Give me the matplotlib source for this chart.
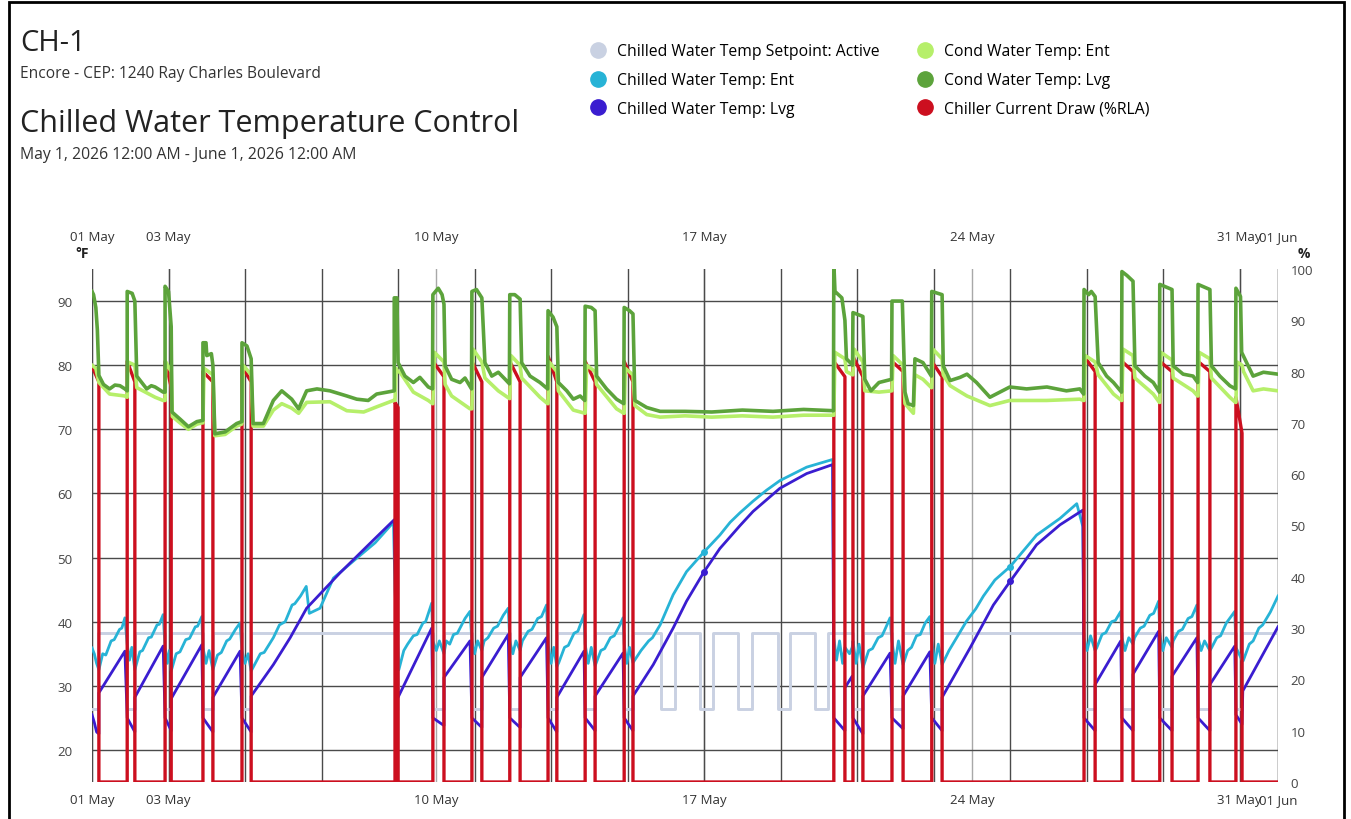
import numpy as np
import pandas as pd
import matplotlib
matplotlib.use("Agg")
import matplotlib.pyplot as plt
import matplotlib.dates as mdates
from matplotlib.lines import Line2D
from matplotlib.patches import Rectangle

plt.rcParams["font.family"] = ["Open Sans", "DejaVu Sans"]

START = pd.Timestamp("2026-05-01")
END = pd.Timestamp("2026-06-01")

# times are in days after May 1, 00:00
# chiller runs (current draw, % RLA)
pulse_on = [0.00, 0.92, 1.91, 2.90, 3.92, 7.92, 8.91, 9.93, 10.92, 11.92, 12.89,
            13.91, 19.39, 19.89, 20.91, 21.95, 25.93, 26.92, 27.91, 28.91, 29.90]
pulse_off = [0.18, 1.12, 2.07, 3.16, 4.16, 8.00, 9.20, 10.19, 11.19, 12.15, 13.15,
             14.14, 19.68, 20.15, 21.20, 22.22, 26.22, 27.21, 28.23, 29.22, 30.06]
pulse_peak = [81, 82, 82, 80, 81, 74, 82, 82, 82, 83, 82,
              82, 82, 83, 82, 82, 83, 82, 82, 82, 75]
pulse_tail = [78, 78, 77, 78, 78, 73, 79, 78, 78, 78, 78,
              78, 79, 79, 80, 79, 80, 80, 80, 80, 68]

# setpoint: low periods
sp_high, sp_low = 38.3, 26.4
sp_low_on = [0.00, 0.92, 1.91, 2.90, 3.92, 7.92, 8.91, 9.93, 10.92, 11.92, 12.89, 13.91,
             14.88, 15.90, 16.89, 17.94, 18.90, 19.89, 20.91, 21.95, 25.93, 26.92,
             27.91, 28.91, 29.90]
sp_low_off = [0.15, 1.12, 2.07, 3.16, 4.16, 8.00, 9.20, 10.19, 11.19, 12.15, 13.15, 14.14,
              15.24, 16.24, 17.24, 18.24, 19.24, 20.15, 21.20, 22.22, 26.22, 27.21,
              28.23, 29.22, 30.06]

chw_lvg = [
    (0.00, 25.5), (0.06, 24.3), (0.12, 22.8), (0.18, 22.5), (0.18, 28.9), (0.86, 35.4),
    (0.92, 25.0), (1.12, 22.8), (1.12, 28.2), (1.86, 36.2),
    (1.91, 25.0), (2.07, 23.0), (2.07, 28.0), (2.87, 36.4),
    (2.90, 25.0), (3.16, 22.8), (3.16, 28.2), (3.87, 35.4),
    (3.92, 25.0), (4.16, 22.8), (4.16, 28.4), (4.74, 33.3), (5.18, 37.5), (5.61, 42.1),
    (6.48, 47.6), (7.35, 52.7), (7.90, 55.9),
    (7.92, 50.0), (8.00, 28.2), (8.88, 39.0),
    (8.91, 25.0), (9.20, 23.8), (9.20, 31.3), (9.88, 37.0),
    (9.93, 25.0), (10.19, 23.5), (10.19, 31.3), (10.88, 38.0),
    (10.92, 25.0), (11.19, 23.5), (11.19, 31.3), (11.88, 37.5),
    (11.92, 25.0), (12.15, 22.8), (12.15, 28.2), (12.86, 35.4),
    (12.89, 25.0), (13.15, 23.0), (13.15, 28.4), (13.88, 35.1),
    (13.91, 25.0), (14.14, 23.0), (14.14, 28.4), (14.67, 33.3), (15.19, 39.0), (15.54, 43.2),
    (16.00, 47.8), (16.41, 51.4), (16.94, 55.0), (17.28, 57.2), (17.98, 60.8), (18.68, 63.1),
    (19.36, 64.5),
    (19.39, 25.0), (19.68, 23.0), (19.68, 29.7), (19.87, 31.5),
    (19.89, 25.0), (20.15, 22.5), (20.15, 28.4), (20.86, 35.1),
    (20.91, 25.0), (21.20, 23.3), (21.20, 28.4), (21.90, 35.3),
    (21.95, 25.0), (22.22, 23.0), (22.22, 28.2), (22.95, 35.9), (23.56, 42.6), (24.00, 46.3),
    (24.69, 52.0), (25.30, 55.1), (25.90, 57.4),
    (25.93, 25.0), (26.22, 23.0), (26.22, 30.2), (26.89, 37.0),
    (26.92, 25.0), (27.21, 23.0), (27.21, 31.8), (27.88, 38.5),
    (27.91, 25.0), (28.23, 23.0), (28.23, 31.5), (28.88, 37.5),
    (28.91, 25.0), (29.22, 23.0), (29.22, 30.2), (29.87, 36.2),
    (29.90, 25.5), (30.06, 24.0), (30.08, 29.2), (31.00, 39.2),
]

chw_ent = [
    (0.00, 35.9), (0.06, 35.0), (0.12, 33.5), (0.18, 32.5), (0.28, 35.0), (0.36, 34.8),
    (0.50, 37.0), (0.58, 37.2), (0.72, 38.8), (0.78, 39.0), (0.86, 40.6),
    (0.92, 36.5), (0.98, 34.0), (1.04, 36.0), (1.12, 32.5), (1.25, 35.3), (1.32, 35.5),
    (1.48, 37.5), (1.55, 37.6), (1.70, 39.5), (1.76, 39.6), (1.86, 41.1),
    (1.91, 36.0), (1.97, 33.5), (2.02, 35.5), (2.07, 32.3), (2.20, 35.0), (2.30, 35.3),
    (2.45, 37.2), (2.55, 37.4), (2.70, 39.2), (2.76, 39.3), (2.87, 40.8),
    (2.90, 36.0), (2.98, 33.5), (3.06, 35.5), (3.16, 32.5), (3.28, 34.8), (3.38, 35.2),
    (3.52, 37.0), (3.60, 37.3), (3.75, 38.8), (3.87, 39.8),
    (3.92, 35.5), (4.00, 33.5), (4.08, 35.0), (4.16, 32.3), (4.40, 35.0), (4.50, 35.2),
    (4.74, 37.5), (4.90, 39.5), (5.05, 40.0), (5.23, 42.6), (5.30, 42.8), (5.45, 44.0),
    (5.60, 45.5), (5.68, 41.3), (5.96, 42.1), (6.31, 46.8), (6.92, 49.9), (7.40, 52.3),
    (7.88, 55.5),
    (7.92, 45.0), (8.02, 32.5), (8.15, 35.5), (8.25, 36.5), (8.40, 37.8), (8.50, 38.0),
    (8.65, 39.8), (8.72, 40.0), (8.88, 42.9),
    (8.91, 37.0), (9.00, 35.5), (9.08, 37.0), (9.20, 35.0), (9.26, 37.0), (9.35, 36.5),
    (9.45, 38.0), (9.55, 38.2), (9.75, 40.5), (9.88, 41.6),
    (9.93, 37.0), (10.00, 35.0), (10.08, 37.0), (10.19, 35.5), (10.25, 37.0), (10.35, 37.5),
    (10.50, 39.0), (10.60, 39.3), (10.75, 41.0), (10.88, 42.1),
    (10.92, 37.0), (11.00, 35.0), (11.08, 37.0), (11.19, 35.5), (11.25, 37.0), (11.40, 38.5),
    (11.50, 38.8), (11.65, 40.5), (11.75, 40.8), (11.88, 42.6),
    (11.92, 36.5), (12.00, 33.5), (12.07, 36.0), (12.15, 33.0), (12.20, 33.6), (12.35, 36.0),
    (12.45, 36.3), (12.60, 38.2), (12.70, 38.5), (12.86, 41.1),
    (12.89, 36.5), (12.97, 33.5), (13.05, 36.0), (13.15, 33.1), (13.30, 35.5), (13.40, 35.8),
    (13.55, 37.5), (13.65, 37.8), (13.80, 39.5), (13.88, 40.6),
    (13.91, 36.5), (13.98, 33.5), (14.05, 36.0), (14.14, 33.6), (14.35, 35.5), (14.55, 37.0),
    (14.65, 37.5), (14.85, 39.5), (15.19, 44.2), (15.54, 47.8), (16.00, 50.9), (16.41, 53.5),
    (16.68, 55.5), (16.94, 57.0), (17.28, 58.8), (17.63, 60.5), (17.98, 62.0), (18.68, 64.1),
    (19.36, 65.3),
    (19.39, 37.5), (19.46, 34.0), (19.54, 37.0), (19.62, 33.5), (19.68, 36.0), (19.80, 35.0),
    (19.87, 36.0),
    (19.89, 37.0), (19.97, 33.5), (20.05, 36.5), (20.15, 32.8), (20.30, 35.5), (20.40, 35.8),
    (20.55, 37.5), (20.65, 37.8), (20.78, 39.5), (20.86, 40.6),
    (20.91, 37.0), (20.99, 33.5), (21.08, 37.0), (21.20, 33.3), (21.32, 35.5), (21.42, 36.0),
    (21.55, 37.8), (21.65, 38.0), (21.78, 39.8), (21.90, 40.8),
    (21.95, 37.0), (22.03, 33.5), (22.12, 36.5), (22.22, 33.3), (22.40, 35.5), (22.55, 37.0),
    (22.70, 38.5), (22.86, 40.1), (23.10, 42.0), (23.30, 44.0), (23.60, 46.5), (24.00, 48.6),
    (24.69, 53.5), (25.30, 56.1), (25.74, 58.4), (25.90, 54.8),
    (25.93, 37.5), (26.01, 35.5), (26.10, 37.8), (26.22, 35.5), (26.26, 35.9), (26.40, 38.0),
    (26.50, 38.3), (26.65, 40.0), (26.75, 40.2), (26.89, 41.6),
    (26.92, 37.5), (27.00, 35.5), (27.10, 37.5), (27.21, 36.5), (27.25, 37.5), (27.40, 39.0),
    (27.50, 39.3), (27.65, 41.0), (27.75, 41.3), (27.88, 43.2),
    (27.91, 38.0), (27.99, 35.5), (28.08, 37.5), (28.23, 36.0), (28.26, 37.0), (28.40, 38.5),
    (28.50, 38.8), (28.65, 40.5), (28.75, 40.8), (28.88, 42.6),
    (28.91, 37.5), (28.99, 35.5), (29.08, 37.0), (29.22, 35.5), (29.26, 35.9), (29.40, 37.5),
    (29.50, 37.8), (29.65, 39.8), (29.87, 41.6),
    (29.90, 36.0), (30.06, 34.0), (30.09, 33.9), (30.25, 36.5), (30.35, 37.0), (30.50, 39.0),
    (30.60, 39.5), (30.80, 41.5), (31.00, 44.0),
]

cond_lvg = [
    (0.00, 91.5), (0.04, 91.0), (0.10, 89.0), (0.14, 85.5), (0.18, 78.4), (0.30, 77.0),
    (0.46, 76.3), (0.60, 76.9), (0.73, 76.8), (0.86, 76.3),
    (0.92, 76.0), (0.92, 91.5), (1.05, 91.2), (1.12, 90.0), (1.17, 78.3), (1.43, 76.3),
    (1.55, 76.8), (1.65, 76.6), (1.86, 75.8),
    (1.91, 75.8), (1.91, 92.3), (2.00, 91.5), (2.07, 86.0), (2.09, 72.7), (2.30, 71.6),
    (2.52, 70.4), (2.74, 71.2), (2.89, 71.4),
    (2.90, 71.4), (2.90, 83.5), (2.98, 83.5), (3.00, 81.5), (3.12, 81.8), (3.16, 80.0),
    (3.21, 69.3), (3.48, 69.6), (3.78, 70.9), (3.91, 71.2),
    (3.92, 71.2), (3.92, 83.5), (4.05, 83.0), (4.16, 81.0), (4.21, 70.9), (4.48, 70.9),
    (4.74, 74.5), (4.96, 76.0), (5.22, 74.7), (5.40, 73.2), (5.61, 76.0), (5.88, 76.3),
    (6.22, 76.0), (6.66, 75.2), (6.92, 74.7), (7.22, 74.5), (7.44, 75.5), (7.90, 76.0),
    (7.90, 90.5), (7.97, 90.5), (8.00, 80.4), (8.18, 78.3), (8.40, 77.3), (8.57, 78.1),
    (8.79, 76.6), (8.90, 76.3),
    (8.91, 91.0), (9.05, 92.0), (9.15, 91.0), (9.20, 89.5), (9.23, 79.9), (9.40, 77.8),
    (9.62, 77.3), (9.75, 78.0), (9.92, 76.3),
    (9.93, 91.5), (10.05, 91.8), (10.19, 90.5), (10.27, 80.4), (10.45, 78.3), (10.62, 78.9),
    (10.80, 77.8), (10.91, 77.1),
    (10.92, 91.0), (11.05, 91.0), (11.19, 90.3), (11.23, 80.4), (11.45, 78.3), (11.71, 77.3),
    (11.91, 76.3),
    (11.92, 88.5), (12.05, 87.5), (12.15, 86.0), (12.19, 77.3), (12.41, 76.0), (12.58, 74.7),
    (12.76, 75.2), (12.88, 74.5),
    (12.89, 89.2), (13.05, 89.0), (13.15, 88.5), (13.19, 78.3), (13.45, 76.3), (13.71, 74.7),
    (13.90, 74.0),
    (13.91, 89.0), (14.05, 88.5), (14.14, 88.0), (14.19, 74.5), (14.50, 73.4), (14.85, 72.8),
    (15.50, 72.8), (16.20, 72.7), (17.00, 73.0), (17.80, 72.8), (18.60, 73.1), (19.38, 72.9),
    (19.39, 96.0), (19.42, 91.5), (19.60, 90.5), (19.68, 87.0), (19.72, 81.0), (19.88, 80.0),
    (19.89, 88.2), (20.15, 87.6), (20.20, 77.8), (20.36, 76.0), (20.57, 77.3), (20.90, 77.8),
    (20.91, 90.0), (21.18, 90.0), (21.25, 75.8), (21.33, 74.0), (21.47, 73.7), (21.51, 81.0),
    (21.72, 80.4), (21.94, 78.3),
    (21.95, 91.5), (22.22, 91.0), (22.25, 79.9), (22.43, 77.6), (22.69, 78.1), (22.87, 78.6),
    (23.12, 77.3), (23.47, 75.0), (23.73, 75.8), (23.99, 76.6), (24.43, 76.3), (24.96, 76.6),
    (25.47, 76.0), (25.82, 76.3), (25.92, 75.5),
    (25.93, 91.8), (26.05, 91.0), (26.12, 91.5), (26.22, 90.7), (26.30, 80.4), (26.52, 78.3),
    (26.70, 77.3), (26.91, 75.8),
    (26.92, 94.6), (27.05, 94.0), (27.21, 93.1), (27.26, 79.9), (27.52, 78.3), (27.74, 77.3),
    (27.90, 75.8),
    (27.91, 92.6), (28.23, 91.8), (28.26, 79.9), (28.52, 78.6), (28.78, 78.3), (28.90, 77.3),
    (28.91, 92.6), (29.22, 91.8), (29.26, 79.9), (29.48, 78.3), (29.74, 76.8), (29.89, 76.3),
    (29.90, 92.0), (30.02, 90.7), (30.05, 82.0), (30.35, 78.3), (30.62, 78.9), (31.00, 78.6),
]

cond_ent = [
    (0.00, 80.0), (0.10, 79.5), (0.18, 77.3), (0.46, 75.5), (0.86, 75.2),
    (0.92, 75.0), (0.94, 80.5), (1.12, 80.0), (1.17, 76.5), (1.65, 75.0), (1.86, 74.5),
    (1.91, 74.5), (1.93, 80.5), (2.07, 79.0), (2.10, 72.0), (2.30, 71.0), (2.52, 70.0),
    (2.74, 70.8), (2.87, 71.0),
    (2.90, 71.0), (2.93, 79.5), (3.16, 78.5), (3.21, 69.0), (3.48, 69.2), (3.78, 70.5),
    (3.91, 70.8),
    (3.92, 71.0), (3.95, 80.0), (4.16, 78.5), (4.21, 70.5), (4.48, 70.5), (4.74, 73.0),
    (4.96, 74.0), (5.22, 73.3), (5.40, 72.5), (5.61, 74.2), (6.22, 74.3), (6.66, 72.9),
    (7.10, 72.7), (7.44, 73.5), (7.88, 74.5),
    (7.92, 74.5), (7.95, 79.5), (8.00, 79.0), (8.05, 78.9), (8.40, 75.8), (8.79, 74.5),
    (8.90, 74.0),
    (8.91, 74.0), (8.95, 82.0), (9.20, 80.5), (9.23, 77.0), (9.40, 75.2), (9.88, 73.2),
    (9.93, 73.2), (9.96, 82.5), (10.19, 80.5), (10.27, 78.0), (10.62, 76.0), (10.91, 74.8),
    (10.92, 74.8), (10.95, 81.5), (11.19, 80.0), (11.23, 78.0), (11.71, 75.0), (11.91, 74.0),
    (11.92, 74.0), (11.95, 80.5), (12.15, 79.0), (12.19, 76.0), (12.58, 73.0), (12.88, 72.5),
    (12.89, 72.5), (12.93, 80.0), (13.15, 79.0), (13.19, 77.0), (13.71, 73.2), (13.90, 72.5),
    (13.91, 72.5), (13.94, 79.5), (14.14, 78.5), (14.19, 73.7), (14.50, 72.3), (14.85, 71.9),
    (15.50, 72.1), (16.20, 71.9), (17.00, 72.1), (17.80, 71.9), (18.60, 72.2), (19.38, 72.2),
    (19.39, 72.2), (19.42, 82.0), (19.68, 81.0), (19.72, 79.0), (19.88, 78.5),
    (19.89, 78.5), (19.92, 82.5), (20.15, 80.5), (20.20, 76.0), (20.57, 75.8), (20.90, 76.0),
    (20.91, 76.0), (20.94, 81.5), (21.20, 80.0), (21.25, 74.0), (21.47, 72.5), (21.51, 78.5),
    (21.72, 77.8), (21.94, 76.5),
    (21.95, 76.5), (21.98, 82.5), (22.22, 81.0), (22.25, 78.5), (22.43, 76.8), (22.87, 75.2),
    (23.47, 73.7), (23.99, 74.5), (24.96, 74.5), (25.82, 74.7), (25.92, 74.5),
    (25.93, 74.5), (25.96, 81.5), (26.22, 80.5), (26.30, 78.5), (26.70, 75.5), (26.91, 74.5),
    (26.92, 74.5), (26.95, 82.5), (27.21, 81.5), (27.26, 78.0), (27.74, 75.5), (27.90, 74.2),
    (27.91, 74.2), (27.94, 82.0), (28.23, 80.8), (28.26, 78.0), (28.78, 76.0), (28.90, 75.2),
    (28.91, 75.2), (28.94, 82.0), (29.22, 81.0), (29.26, 78.0), (29.74, 75.0), (29.89, 74.2),
    (29.90, 74.2), (29.93, 80.5), (30.06, 80.0), (30.10, 79.0), (30.35, 76.0), (30.62, 76.3),
    (31.00, 76.0),
]

# highlighted points (hover dots) on the chilled water lines
dot_days = [16.0, 24.0]

tick_dates = ["2026-05-01", "2026-05-03", "2026-05-10", "2026-05-17",
              "2026-05-24", "2026-05-31", "2026-06-01"]

names = ["Chilled Water Temp Setpoint: Active", "Chilled Water Temp: Ent",
         "Chilled Water Temp: Lvg", "Cond Water Temp: Ent", "Cond Water Temp: Lvg",
         "Chiller Current Draw (%RLA)"]
colors = ["#c9d1e2", "#27b3d6", "#3a1dd0", "#b6ef6a", "#5ca33b", "#cc0f1f"]


def to_time(days):
    return START + pd.to_timedelta(np.asarray(days, dtype=float), unit="D")


def split(pairs):
    arr = np.array(pairs, dtype=float)
    return arr[:, 0], arr[:, 1]


# step series for the current draw
cur_d, cur_v = [], []
for on, off, pk, tl in zip(pulse_on, pulse_off, pulse_peak, pulse_tail):
    if on > 0:
        cur_d.append(on)
        cur_v.append(0)
    cur_d += [on, off, off]
    cur_v += [pk, tl, 0]
cur_d.append(31.0)
cur_v.append(0)

# step series for the setpoint
sp_d, sp_v = [], []
for on, off in zip(sp_low_on, sp_low_off):
    if on > 0:
        sp_d.append(on)
        sp_v.append(sp_high)
    sp_d += [on, off, off]
    sp_v += [sp_low, sp_low, sp_high]
sp_d.append(31.0)
sp_v.append(sp_high)

W, H = 1351, 820
fig = plt.figure(figsize=(W / 100, H / 100), dpi=100)
fig.patch.set_facecolor("white")
ax = fig.add_axes([92 / W, 1 - 783 / H, (1278 - 92) / W, (783 - 270) / H])
axr = ax.twinx()
axg = ax.twinx()

# chilled water side
ax.plot(to_time(sp_d), sp_v, color=colors[0], lw=2.1, zorder=2)
d, v = split(chw_ent)
ax.plot(to_time(d), v, color=colors[1], lw=2.0, zorder=3, marker="o", ms=4,
        markevery=list(np.where(np.isin(d, dot_days))[0]))
d, v = split(chw_lvg)
ax.plot(to_time(d), v, color=colors[2], lw=2.0, zorder=4, marker="o", ms=4,
        markevery=list(np.where(np.isin(d, dot_days))[0]))

# current draw on the % axis
axr.plot(to_time(cur_d), cur_v, color=colors[5], lw=2.4)

# condenser water on top
d, v = split(cond_ent)
axg.plot(to_time(d), v, color=colors[3], lw=2.6)
d, v = split(cond_lvg)
axg.plot(to_time(d), v, color=colors[4], lw=2.6)

ax.set_xlim(START, END)
ax.set_ylim(15, 95)
axg.set_ylim(15, 95)
axr.set_ylim(0, 100)

ax.set_yticks(range(20, 91, 10))
axr.set_yticks(range(0, 101, 10))
axg.set_yticks([])

ax.set_xticks(pd.to_datetime(tick_dates))
ax.xaxis.set_major_formatter(mdates.DateFormatter("%d %b"))
ax.xaxis.set_minor_locator(mdates.DayLocator(bymonthday=range(1, 32, 2)))
ax.xaxis.remove_overlapping_locs = False
ax.tick_params(axis="x", which="both", length=0, top=False, labeltop=False,
               labelbottom=True, labelsize=9.5, colors="#333333", pad=8)
# top date labels sit higher, drawn from the twin's x axis
axg.xaxis.set_visible(True)
axg.tick_params(axis="x", which="both", length=0, bottom=False, labelbottom=False,
                top=True, labeltop=True, labelsize=9.5, colors="#333333", pad=19)
ax.tick_params(axis="y", length=0, labelsize=9.5, colors="#444444", pad=14)
axr.tick_params(axis="y", length=0, labelsize=9.5, colors="#444444", pad=9)

ax.grid(True, which="major", axis="x", color="#a8a8a8", lw=1)
ax.grid(True, which="minor", axis="x", color="#4a4a4a", lw=1)
ax.grid(True, which="major", axis="y", color="#4a4a4a", lw=1)
ax.set_axisbelow(True)

for a in (ax, axr, axg):
    for s in a.spines.values():
        s.set_visible(False)

ax.text(-0.008, 1.0 + 16 / 513, "°F", transform=ax.transAxes, ha="center",
        va="center", fontsize=10, fontweight="bold", color="#222222")
axr.text(1.022, 1.0 + 16 / 513, "%", transform=axr.transAxes, ha="center",
         va="center", fontsize=10, fontweight="bold", color="#222222")

# titles
fig.text(20 / W, 1 - 51 / H, "CH-1", fontsize=21, color="#222222", va="baseline")
fig.text(20 / W, 1 - 78 / H, "Encore - CEP: 1240 Ray Charles Boulevard", fontsize=11.2,
         color="#333333", va="baseline")
fig.text(20 / W, 1 - 132 / H, "Chilled Water Temperature Control", fontsize=22,
         color="#222222", va="baseline")
fig.text(20 / W, 1 - 159 / H, "May 1, 2026 12:00 AM - June 1, 2026 12:00 AM",
         fontsize=11.3, color="#333333", va="baseline")

handles = [Line2D([], [], ls="none", marker="o", ms=11, color=c, markeredgecolor=c)
           for c in colors]
fig.legend(handles, names, ncol=2, loc="upper left", frameon=False,
           bbox_to_anchor=(588.5 / W, 1 - 44.5 / H), fontsize=11.3, handletextpad=0.6,
           columnspacing=2.33, labelspacing=0.8, handlelength=1.2, borderaxespad=0,
           borderpad=0)

fig.add_artist(Rectangle((9 / W, -0.05), (1344 - 9) / W, 1.05 - 3 / H, fill=False,
                         lw=2, edgecolor="black", transform=fig.transFigure))

fig.savefig("out.png", dpi=100, facecolor="white")
